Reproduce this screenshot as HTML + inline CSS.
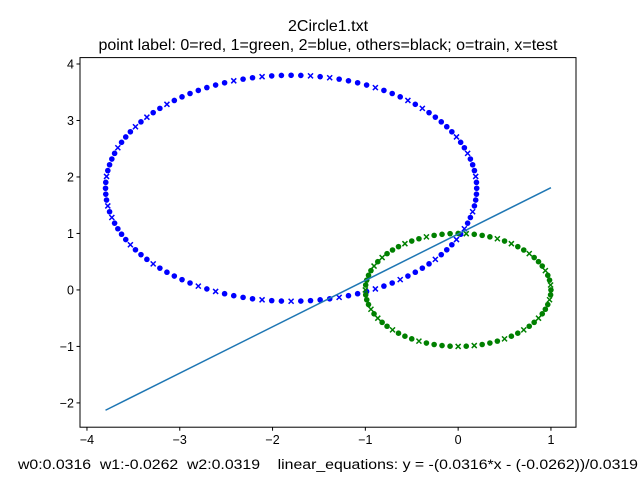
<!DOCTYPE html>
<html><head><meta charset="utf-8"><style>
body{margin:0;background:#fff}
svg{display:block;font-family:"Liberation Sans","DejaVu Sans",sans-serif}
</style></head><body>
<svg id="chart" width="640" height="480" xmlns="http://www.w3.org/2000/svg">
<rect width="640" height="480" fill="#fff"/>
<text x="328" y="31" text-anchor="middle" font-size="16">2Circle1.txt</text>
<text x="328" y="50" text-anchor="middle" font-size="16">point label: 0=red, 1=green, 2=blue, others=black; o=train, x=test</text>
<g id="plot"></g>
<rect x="80" y="57.6" width="496" height="369.6" fill="none" stroke="#000" stroke-width="1"/>
<g id="ticks"></g>
<text x="18" y="469" text-anchor="start" font-size="14.2" textLength="620" lengthAdjust="spacingAndGlyphs" style="white-space:pre">w0:0.0316  w1:-0.0262  w2:0.0319    linear_equations: y = -(0.0316*x - (-0.0262))/0.0319</text>
</svg>
<script>
const xTicks=[-4,-3,-2,-1,0,1];
const yTicks=[-2,-1,0,1,2,3,4];
const blueAngles=[0,3,6,9,12,15,18,21,24,27,30,33,36,39,42,45,48,51,54,57,60,63,66,69,72,75,78,81,84,87,90,93,96,99,102,105,108,111,114,117,120,123,126,129,132,135,138,141,144,147,150,153,156,159,162,165,168,171,174,177,180,183,186,189,192,195,198,201,204,207,210,213,216,219,222,225,228,231,234,237,240,243,246,249,252,255,258,261,264,267,270,273,276,279,282,285,288,291,294,297,300,303,306,309,312,315,318,321,324,327,330,333,336,339,342,345,348,351,354,357];
const greenAngles=[0,5,10,15,20,25,30,35,40,45,50,55,60,65,70,75,80,85,90,95,100,105,110,115,120,125,130,135,140,145,150,155,160,165,170,175,180,185,190,195,200,205,210,215,220,225,230,235,240,245,250,255,260,265,270,275,280,285,290,295,300,305,310,315,320,325,330,335,340,345,350,355];
const blueCenter=[-1.8,1.8], blueRadius=2;
const greenCenter=[0,0], greenRadius=1;
const blueTest ="ooxoooxooxoooooxoxoooxooooxoxooooxooxoooooooxooxoxoooxooooxooooxoxooooxoooxoooooxoxooooxooxooooxoooxooxooooxoooxoxooxoo";
const greenTest="oxooxoooxooxoxoooxooooxooxoooxoxooooxoooxoxooxoooxooooxoxoooxooxooxoooxo";
const lineX=[-3.8,1.0];
const lineY=[-2.13,1.81];
const L=80,R=576,T=57.6,B=427.2,xmin=-4.075,xmax=1.27,ymin=-2.43,ymax=4.113;
const sx=v=>L+(v-xmin)/(xmax-xmin)*(R-L);
const sy=v=>B-(v-ymin)/(ymax-ymin)*(B-T);
const NS="http://www.w3.org/2000/svg";
const plot=document.getElementById('plot'), tk=document.getElementById('ticks');
function mk(t,a,p){const e=document.createElementNS(NS,t);for(const k in a)e.setAttribute(k,a[k]);p.appendChild(e);return e;}
function drawCircle(c,r,angles,flags,color,name){
  angles.forEach((a,i)=>{
    const x=sx(c[0]+r*Math.cos(a*Math.PI/180)), y=sy(c[1]+r*Math.sin(a*Math.PI/180));
    let el;
    if(flags[i]==='x'){
      el=mk('path',{d:`M${x-2.5},${y-2.5}L${x+2.5},${y+2.5}M${x-2.5},${y+2.5}L${x+2.5},${y-2.5}`,stroke:color,'stroke-width':1.5},plot);
    } else {
      el=mk('circle',{cx:x,cy:y,r:2.8,fill:color},plot);
    }
    
    
  });
}
drawCircle(blueCenter,blueRadius,blueAngles,blueTest,'#0000ff','blue');
drawCircle(greenCenter,greenRadius,greenAngles,greenTest,'#008000','green');
const ln=mk('line',{x1:sx(lineX[0]),y1:sy(lineY[0]),x2:sx(lineX[1]),y2:sy(lineY[1]),stroke:'#1f77b4','stroke-width':1.5},plot);


xTicks.forEach(v=>{
  const x=sx(v);
  const t=mk('line',{x1:x,y1:B,x2:x,y2:B+3.5,stroke:'#000'},tk);
  
  
  const l=mk('text',{x:x,y:B+17,'text-anchor':'middle','font-size':12.5},tk);
  l.textContent=(v<0?'\u2212'+(-v):v);
  
  
});
yTicks.forEach(v=>{
  const y=sy(v);
  const t=mk('line',{x1:L-3.5,y1:y,x2:L,y2:y,stroke:'#000'},tk);
  
  
  const l=mk('text',{x:L-6,y:y+4.5,'text-anchor':'end','font-size':12.5},tk);
  l.textContent=(v<0?'\u2212'+(-v):v);
  
  
});
</script>
</body></html>
